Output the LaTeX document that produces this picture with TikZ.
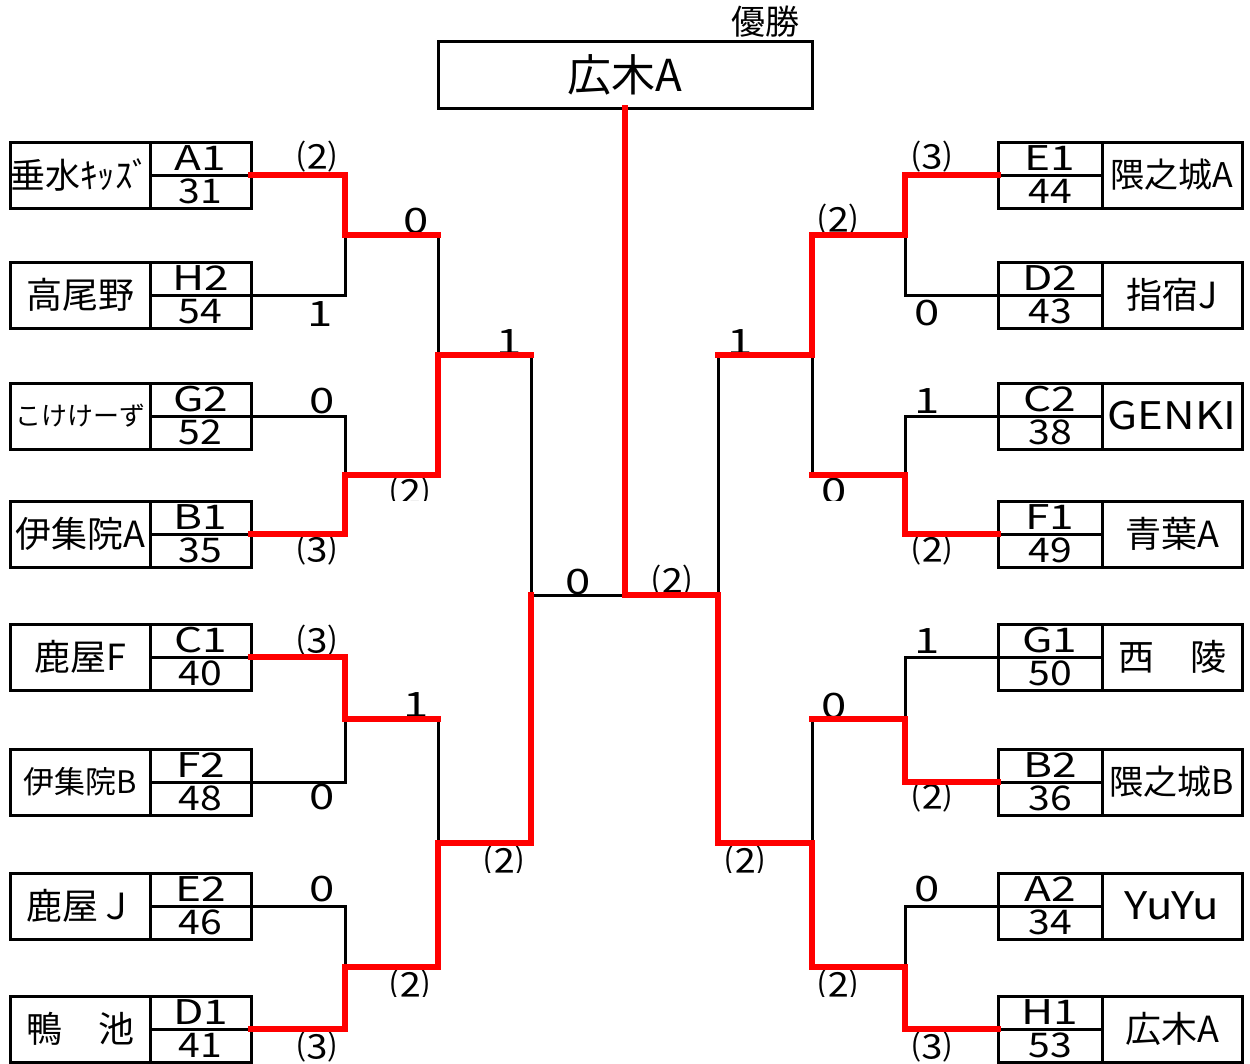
\documentclass[tikz,border=0pt]{standalone}
\usepackage{fontspec}
\setmainfont{Noto Sans CJK JP}
\newfontfamily\wf[FakeStretch=1.15]{Noto Sans CJK JP}
\newfontfamily\wg[FakeStretch=1.3]{Noto Sans CJK JP}
\newcommand\fs[1]{\fontsize{#1}{#1}\selectfont}
\tikzset{
  cellbox/.style={draw=black, line width=3pt, inner sep=0pt, outer sep=0pt, anchor=center},
  namecell/.style={cellbox, minimum width=140pt, minimum height=66pt},
  codecell/.style={cellbox, minimum height=33pt},
  blk/.style={draw=black, line width=3pt, line join=miter},
  win/.style={draw=red, line width=6.5pt, line join=miter, line cap=rect},
  lbl/.style={inner sep=0pt, outer sep=0pt, font=\wf\fs{34}},
  nlbl/.style={inner sep=0pt, outer sep=0pt, font=\wg\fs{35}},
}
\newcommand\teamL[6]{%
  \node[namecell, font=\fs{#3}] (#1n) at (80,{#2+33}) {#4};
  \node[codecell, minimum width=101pt, font=\wg\fs{34}] (#1c) at (200.5,{#2+16.5}) {#5};
  \node[codecell, minimum width=101pt, font=\wf\fs{34}] (#1s) at (200.5,{#2+49.5}) {#6};
}
\newcommand\teamR[6]{%
  \node[namecell, font=\fs{#3}] (#1n) at (1172,{#2+33}) {#4};
  \node[codecell, minimum width=104pt, font=\wg\fs{34}] (#1c) at (1050,{#2+16.5}) {#5};
  \node[codecell, minimum width=104pt, font=\wf\fs{34}] (#1s) at (1050,{#2+49.5}) {#6};
}
\begin{document}
\begin{tikzpicture}[x=1pt, y=-1pt]
\useasboundingbox (0,0) rectangle (1250,1063);
\fill[white] (0,0) rectangle (1250,1063);

% champion
\node[cellbox, minimum width=374pt, minimum height=67pt, font=\fs{44}] (champ) at (625,74.5) {広木A};
\node[inner sep=0pt, font=\fs{34}] (yusho) at (765,22) {優勝};

% left teams
\teamL{A1}{142}{35}{垂水ｷｯｽﾞ}{A1}{31}
\teamL{H2}{262}{36}{高尾野}{H2}{54}
\teamL{G2}{383}{26}{こけけーず}{G2}{52}
\teamL{B1}{501}{36}{伊集院A}{B1}{35}
\teamL{C1}{624}{36}{鹿屋F}{C1}{40}
\teamL{F2}{749}{31}{伊集院B}{F2}{48}
\teamL{E2}{873}{36}{鹿屋Ｊ}{E2}{46}
\teamL{D1}{996}{36}{鴨　池}{D1}{41}

% right teams
\teamR{E1}{142}{34}{隈之城A}{E1}{44}
\teamR{D2}{262}{36}{指宿J}{D2}{43}
\teamR{C2}{383}{38}{\wf GENKI}{C2}{38}
\teamR{F1}{501}{36}{青葉A}{F1}{49}
\teamR{G1}{624}{36}{西　陵}{G1}{50}
\teamR{B2}{749}{34}{隈之城B}{B2}{36}
\teamR{A2}{873}{38}{\wf YuYu}{A2}{34}
\teamR{H1}{996}{36}{広木A}{H1}{53}

% joints
\coordinate (a1) at (345,235);
\coordinate (a2) at (345,475);
\coordinate (a3) at (345,719);
\coordinate (a4) at (345,967);
\coordinate (b1) at (438,355);
\coordinate (b2) at (438,843);
\coordinate (c1) at (531,595);
\coordinate (f) at (champ.south |- c1);
\coordinate (g1) at (718,595);
\coordinate (e1) at (812,355);
\coordinate (e2) at (812,843);
\coordinate (d1) at (905,235);
\coordinate (d2) at (905,475);
\coordinate (d3) at (905,719);
\coordinate (d4) at (905,967);

% score labels (drawn under the lines)
\node[lbl] (l1) at (317,157) {⑵};
\node[nlbl] (l2) at (416,221) {0};
\node[nlbl] (l3) at (320,314) {1};
\node[nlbl] (l4) at (509,342) {1};
\node[nlbl] (l5) at (322,401) {0};
\begin{scope}\clip (380,477) rectangle (460,500);
\node[lbl] (l6) at (410,492) {⑵};
\end{scope}
\node[lbl] (l7) at (317,550) {⑶};
\node[nlbl] (l8) at (578,582) {0};
\node[lbl] (l9) at (672,581) {⑵};
\node[lbl] (l10) at (317,641) {⑶};
\node[nlbl] (l11) at (416,705) {1};
\node[nlbl] (l12) at (322,797) {0};
\begin{scope}\clip (470,846) rectangle (540,872);
\node[lbl] (l13) at (504,861) {⑵};
\end{scope}
\node[nlbl] (l14) at (322,889) {0};
\begin{scope}\clip (380,970) rectangle (440,996);
\node[lbl] (l15) at (410,985) {⑵};
\end{scope}
\node[lbl] (l16) at (317,1047) {⑶};

\node[lbl] (r1) at (932,157) {⑶};
\node[lbl] (r2) at (838,220) {⑵};
\node[nlbl] (r3) at (927,313) {0};
\node[nlbl] (r4) at (740,342) {1};
\node[nlbl] (r5) at (927,401) {1};
\begin{scope}\clip (810,477) rectangle (860,500);
\node[nlbl] (r6) at (834,491) {0};
\end{scope}
\node[lbl] (r7) at (932,550) {⑵};
\node[nlbl] (r8) at (927,641) {1};
\node[nlbl] (r9) at (834,706) {0};
\node[lbl] (r10) at (932,797) {⑵};
\begin{scope}\clip (710,846) rectangle (780,872);
\node[lbl] (r11) at (745,861) {⑵};
\end{scope}
\node[nlbl] (r12) at (927,889) {0};
\begin{scope}\clip (800,970) rectangle (875,996);
\node[lbl] (r13) at (838,985) {⑵};
\end{scope}
\node[lbl] (r14) at (932,1047) {⑶};

% black (losing) connectors
\draw[blk] (H2c.south east) -| (a1);
\draw[blk] (G2c.south east) -| (a2);
\draw[blk] (F2c.south east) -| (a3);
\draw[blk] (E2c.south east) -| (a4);
\draw[blk] (a1 -| b1) -- (b1);
\draw[blk] (a3 -| b2) -- (b2);
\draw[blk] (b1 -| c1) -- (c1) -- (f);
\draw[blk] (D2c.south west) -| (d1);
\draw[blk] (C2c.south west) -| (d2);
\draw[blk] (G1c.south west) -| (d3);
\draw[blk] (A2c.south west) -| (d4);
\draw[blk] (d2 -| e1) -- (e1);
\draw[blk] (d3 -| e2) -- (e2);
\draw[blk] (e1 -| g1) -- (g1);

% red (winning) connectors
\draw[win] (A1c.south east) -| (a1) -- (a1 -| b1);
\draw[win] (B1c.south east) -| (a2) -- (a2 -| b1) -- (b1) -- (b1 -| c1);
\draw[win] (C1c.south east) -| (a3) -- (a3 -| b2);
\draw[win] (D1c.south east) -| (a4) -- (a4 -| b2) -- (b2) -- (b2 -| c1) -- (c1);
\draw[win] (E1c.south west) -| (d1) -- (d1 -| e1) -- (e1) -- (e1 -| g1);
\draw[win] (F1c.south west) -| (d2) -- (d2 -| e1);
\draw[win] (B2c.south west) -| (d3) -- (d3 -| e2);
\draw[win] (champ.south) -- (f) -- (g1) -- (e2 -| g1) -- (e2) -- (d4 -| e2) -- (d4) |- (H1c.south west);
\end{tikzpicture}
\end{document}
